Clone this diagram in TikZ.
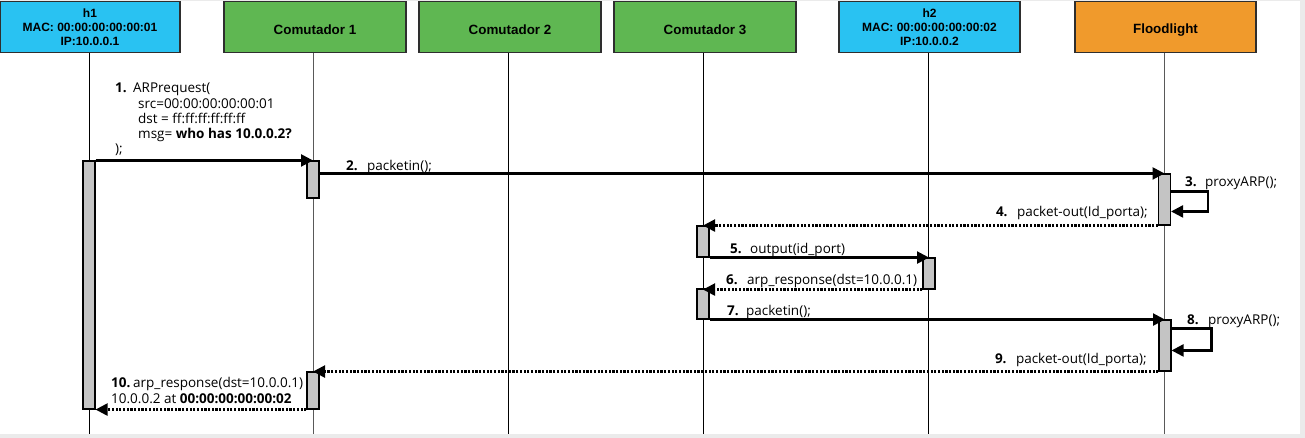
\documentclass[tikz,border=0pt]{standalone}
\usepackage{fontspec}
\setmainfont{Open Sans}
\newfontfamily\boxfont{Liberation Sans}
\usetikzlibrary{arrows.meta}
\definecolor{hostc}{HTML}{29C2F2}
\definecolor{swc}{HTML}{5FB752}
\definecolor{ctlc}{HTML}{F09A2C}
\definecolor{edgec}{HTML}{2E2E2E}
\definecolor{barc}{HTML}{C4C4C4}
\definecolor{framec}{HTML}{EBEBEB}
\begin{document}
\begin{tikzpicture}[x=1pt,y=-1pt,
  actor/.style={draw=edgec, line width=1.1pt, minimum width=181pt, minimum height=50.5pt, inner sep=0pt,
    font=\boxfont\bfseries\fontsize{12}{14.2}\selectfont, align=center},
  boxtxt/.style={inner sep=0pt, font=\boxfont\bfseries\fontsize{13.4}{15}\selectfont},
  actbar/.style={draw=black, line width=1.1pt, fill=barc, minimum width=12pt, inner sep=0pt},
  life/.style={line width=1pt, draw=black},
  lifeg/.style={line width=1pt, draw=black!65},
  msg/.style={line width=2.3pt, -{Triangle[length=12pt,width=12pt]}},
  reply/.style={msg, dash pattern=on 2.2pt off 1.5pt},
  lbl/.style={inner sep=0pt, font=\fontsize{13.5}{15.2}\selectfont, align=left},
]
\useasboundingbox (0,0) rectangle (1305,438);
\fill[white] (0,0) rectangle (1305,438);
\fill[framec] (1300,0) rectangle (1305,438);
\fill[framec] (0,434) rectangle (1305,438);
\fill[framec] (0,0) rectangle (1305,1);

% actors
\node[actor, fill=hostc, minimum width=180pt] (h1) at (90,27) {h1\\MAC: 00:00:00:00:00:01\\IP:10.0.0.1};
\node[actor, fill=swc, minimum width=182pt, label={[boxtxt, yshift=-3pt]center:Comutador 1}] (c1) at (315,27) {};
\node[actor, fill=swc, minimum width=182pt, label={[boxtxt, yshift=-3pt]center:Comutador 2}] (c2) at (510,27) {};
\node[actor, fill=swc, minimum width=182pt, label={[boxtxt, yshift=-3pt]center:Comutador 3}] (c3) at (705,27) {};
\node[actor, fill=hostc] (h2) at (929.5,27) {h2\\MAC: 00:00:00:00:00:02\\IP:10.0.0.2};
\node[actor, fill=ctlc, label={[boxtxt, yshift=-3pt]center:Floodlight}] (fl) at (1165.5,27) {};

% lifelines
\coordinate (h1e) at (89,434);
\coordinate (c1e) at (313,434);
\coordinate (c2e) at (508.5,434);
\coordinate (c3e) at (703,434);
\coordinate (h2e) at (928.5,434);
\coordinate (fle) at (1164.5,434);
\draw[life] (h1.south -| h1e) -- (h1e);
\draw[lifeg] (c1.south -| c1e) -- (c1e);
\draw[life] (c2.south -| c2e) -- (c2e);
\draw[life] (c3.south -| c3e) -- (c3e);
\draw[life] (h2.south -| h2e) -- (h2e);
\draw[lifeg] (fl.south -| fle) -- (fle);

% activation bars
\node[actbar, minimum height=248pt] (hb) at (89,285) {};
\node[actbar, minimum height=37pt] (c1b1) at (313,179.5) {};
\node[actbar, minimum height=37pt] (c1b2) at (313,390.5) {};
\node[actbar, minimum height=51pt] (flb1) at (1164.5,199.5) {};
\node[actbar, minimum height=51pt] (flb2) at (1165,345.5) {};
\node[actbar, minimum height=31pt] (c3b1) at (703,241.5) {};
\node[actbar, minimum height=30pt] (c3b2) at (703,304) {};
\node[actbar, minimum height=31pt] (h2b) at (929,273.5) {};

% messages
\draw[msg] (hb.north east) -- (c1b1.north);
\draw[msg] (c1b1.east |- flb1.north) -- (flb1.north);
\draw[msg] ([yshift=-18pt]flb1.north east) -- ++(37,0) -- ++(0,20) -- ++(-37,0);
\draw[reply] (flb1.south west) -- (flb1.south west -| c3b1.north);
\draw[msg] (c3b1.south east) -- (c3b1.south east -| h2b.north);
\draw[reply] (h2b.south west) -- (h2b.south west -| c3b2.north);
\draw[msg] (c3b2.south east) -- (c3b2.south east -| flb2.north);
\draw[msg] ([yshift=-9pt]flb2.north east) -- ++(40,0) -- ++(0,22) -- ++(-40,0);
\draw[reply] (flb2.south west) -- (flb2.south west -| c1b2.north);
\draw[reply] (c1b2.south west) -- (c1b2.south west -| hb.east);

% labels
\node[lbl, anchor=west] (l1) at (115,119.5) {\makebox[18pt][l]{\textbf{1.}}ARPrequest(\\
\hspace*{23pt}src=00:00:00:00:00:01\\
\hspace*{23pt}dst = ff:ff:ff:ff:ff:ff\\
\hspace*{23pt}msg= \textbf{who has 10.0.0.2?}\\
);};
\node[lbl, anchor=west] (l2) at (346,167) {\makebox[21pt][l]{\textbf{2.}}packetin();};
\node[lbl, anchor=west] (l3) at (1185,183) {\makebox[20pt][l]{\textbf{3.}}proxyARP();};
\node[lbl, anchor=east] (l4) at (1148,213) {\makebox[21pt][l]{\textbf{4.}}packet-out(Id\_porta);};
\node[lbl, anchor=west] (l5) at (730,250) {\makebox[20pt][l]{\textbf{5.}}output(id\_port)};
\node[lbl, anchor=west] (l6) at (726,281) {\makebox[21pt][l]{\textbf{6.}}arp\_response(dst=10.0.0.1)};
\node[lbl, anchor=west] (l7) at (727,312) {\makebox[19pt][l]{\textbf{7.}}packetin();};
\node[lbl, anchor=west] (l8) at (1187,321) {\makebox[21pt][l]{\textbf{8.}}proxyARP();};
\node[lbl, anchor=east] (l9) at (1147,360) {\makebox[21pt][l]{\textbf{9.}}packet-out(Id\_porta);};
\node[lbl, anchor=west] (l10) at (111,390.5) {\makebox[22pt][l]{\textbf{10.}}arp\_response(dst=10.0.0.1)\\
10.0.0.2 at \textbf{00:00:00:00:00:02}};
\end{tikzpicture}
\end{document}
